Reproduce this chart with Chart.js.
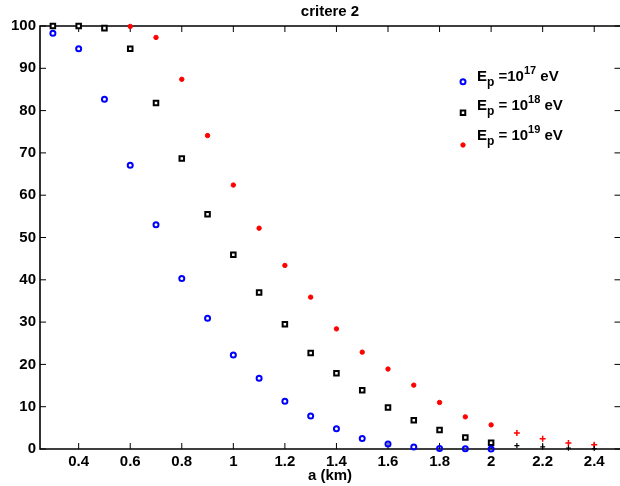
<!DOCTYPE html>
<html>
<head>
<meta charset="utf-8">
<title>critere 2</title>
<script src="https://cdn.jsdelivr.net/npm/chart.js@4.4.0/dist/chart.umd.min.js"></script>
<style>
    html, body { margin: 0; padding: 0; background: #fff; }
    #wrap { width: 620px; height: 486px; overflow: hidden; }
</style>
</head>
<body>
<div id="wrap"><canvas id="chartCritere" width="626" height="486"></canvas></div>
<script>
'use strict'

// a (km) and percentage for each proton energy
var aE17 = [0.3, 0.4, 0.5, 0.6, 0.7, 0.8, 0.9, 1.0, 1.1, 1.2, 1.3, 1.4, 1.5, 1.6, 1.7, 1.8, 1.9, 2.0];
var valE17 = [98.3, 94.6, 82.7, 67.1, 53.0, 40.3, 30.9, 22.2, 16.7, 11.3, 7.8, 4.8, 2.5, 1.2, 0.5, 0.1, 0.05, 0];

var aE18 = [0.3, 0.4, 0.5, 0.6, 0.7, 0.8, 0.9, 1.0, 1.1, 1.2, 1.3, 1.4, 1.5, 1.6, 1.7, 1.8, 1.9, 2.0, 2.1, 2.2, 2.3, 2.4];
var valE18 = [100, 100, 99.5, 94.6, 81.8, 68.7, 55.5, 45.9, 37.0, 29.5, 22.7, 17.9, 13.9, 9.8, 6.8, 4.5, 2.7, 1.5, 0.8, 0.5, 0.2, 0.1];

var aE19 = [0.6, 0.7, 0.8, 0.9, 1.0, 1.1, 1.2, 1.3, 1.4, 1.5, 1.6, 1.7, 1.8, 1.9, 2.0, 2.1, 2.2, 2.3, 2.4];
var valE19 = [99.9, 97.3, 87.4, 74.1, 62.4, 52.2, 43.4, 35.9, 28.4, 22.9, 18.9, 15.1, 11.0, 7.6, 5.7, 3.8, 2.4, 1.4, 1.0];

var xTicks = [0.4, 0.6, 0.8, 1.0, 1.2, 1.4, 1.6, 1.8, 2.0, 2.2, 2.4];
var yTicks = [0, 10, 20, 30, 40, 50, 60, 70, 80, 90, 100];
var energyExp = ['17', '18', '19'];
var energyEq = [' =10', ' = 10', ' = 10'];

var FONT = '"Liberation Sans", Arial, Helvetica, sans-serif';

function toPoints(xs, ys) {
    return xs.map(function(x, i) { return { x: x, y: ys[i] }; });
}

// past 2.0 km the runs are drawn with '+'
function isTail(ctx) {
    return ctx.raw && ctx.raw.x > 2.05;
}

// box with inward ticks on all four sides
var axesFrame = {
    id: 'axesFrame',
    beforeDatasetsDraw: function(chart) {
        var ctx = chart.ctx, area = chart.chartArea;
        var xs = chart.scales.x, ys = chart.scales.y;
        ctx.save();
        ctx.strokeStyle = '#000';
        ctx.lineWidth = 1;
        ctx.beginPath();
        xTicks.forEach(function(v) {
            var px = xs.getPixelForValue(v);
            ctx.moveTo(px, area.bottom); ctx.lineTo(px, area.bottom - 6);
            ctx.moveTo(px, area.top); ctx.lineTo(px, area.top + 6);
        });
        yTicks.forEach(function(v) {
            var py = ys.getPixelForValue(v);
            ctx.moveTo(area.left, py); ctx.lineTo(area.left + 6, py);
            ctx.moveTo(area.right, py); ctx.lineTo(area.right - 5.5, py);
        });
        ctx.stroke();
        ctx.lineWidth = 1.6;
        ctx.beginPath();
        ctx.moveTo(area.right, area.top);
        ctx.lineTo(area.left, area.top);
        ctx.lineTo(area.left, area.bottom);
        ctx.lineTo(area.right, area.bottom);
        ctx.stroke();
        ctx.restore();
    }
};

// legend with subscript p and exponent
var energyLegend = {
    id: 'energyLegend',
    afterDraw: function(chart) {
        var ctx = chart.ctx;
        var markerY = [81.7, 112.7, 145];
        var baseY = [81, 110, 140];
        ctx.save();
        chart.data.datasets.forEach(function(ds, i) {
            var mk = ds.legendMarker;
            ctx.fillStyle = ds.backgroundColor;
            ctx.strokeStyle = ds.borderColor;
            ctx.lineWidth = mk.borderWidth;
            Chart.helpers.drawPoint(ctx, {
                pointStyle: mk.style,
                radius: mk.radius,
                borderWidth: mk.borderWidth,
                rotation: 0
            }, 463, markerY[i]);

            var x = 477, y = baseY[i];
            ctx.fillStyle = '#000';
            ctx.textBaseline = 'alphabetic';
            ctx.textAlign = 'left';
            [['E', 15, 0], ['p', 12, 5], [energyEq[i], 15, 0], [energyExp[i], 11, -7], [' eV', 15, 0]]
                .forEach(function(part) {
                    ctx.font = 'bold ' + part[1] + 'px ' + FONT;
                    ctx.fillText(part[0], x, y + part[2]);
                    x += ctx.measureText(part[0]).width;
                });
        });
        ctx.restore();
    }
};

var ctxCritere = document.getElementById('chartCritere');
var critereChart = new Chart(ctxCritere, {
    type: 'scatter',
    data: {
        datasets: [{
            label: 'E17',
            data: toPoints(aE17, valE17),
            pointStyle: 'circle',
            pointRadius: 2.5,
            borderWidth: 2,
            borderColor: '#0000ff',
            backgroundColor: 'rgba(255,255,255,0)',
            legendMarker: { style: 'circle', radius: 2.5, borderWidth: 2 },
            clip: false
        }, {
            label: 'E18',
            data: toPoints(aE18, valE18),
            pointStyle: function(c) { return isTail(c) ? 'cross' : 'rect'; },
            pointRadius: function(c) { return isTail(c) ? 2.5 : 3.2; },
            borderWidth: function(c) { return isTail(c) ? 1.2 : 2; },
            borderColor: '#000000',
            backgroundColor: '#ffffff',
            legendMarker: { style: 'rect', radius: 3.2, borderWidth: 2 },
            clip: false
        }, {
            label: 'E19',
            data: toPoints(aE19, valE19),
            pointStyle: function(c) { return isTail(c) ? 'cross' : 'circle'; },
            pointRadius: function(c) { return isTail(c) ? 3 : 2.2; },
            borderWidth: function(c) { return isTail(c) ? 1.5 : 1; },
            borderColor: '#ff0000',
            backgroundColor: '#ff0000',
            legendMarker: { style: 'circle', radius: 2.2, borderWidth: 1 },
            clip: false
        }]
    },
    options: {
        responsive: false,
        animation: false,
        layout: { padding: { left: 0, right: 1, top: 0, bottom: 0 } },
        plugins: {
            legend: { display: false },
            tooltip: { enabled: false },
            title: {
                display: true,
                text: 'critere 2',
                fullSize: false,
                color: '#000',
                font: { family: FONT, size: 15, weight: 'bold' },
                padding: { top: 3, bottom: 5 }
            }
        },
        scales: {
            x: {
                type: 'linear',
                min: 0.25,
                max: 2.5,
                grid: { display: false, drawTicks: false },
                border: { display: false },
                afterBuildTicks: function(scale) {
                    scale.ticks = xTicks.map(function(v) { return { value: v }; });
                },
                afterFit: function(scale) { scale.height = 37; },
                ticks: {
                    padding: 4,
                    color: '#000',
                    font: { family: FONT, size: 15, weight: 'bold' },
                    maxRotation: 0,
                    callback: function(v) { return String(+v.toFixed(1)); }
                },
                title: {
                    display: true,
                    text: 'a (km)',
                    color: '#000',
                    font: { family: FONT, size: 15, weight: 'bold' },
                    padding: { top: 0, bottom: 1 }
                }
            },
            y: {
                type: 'linear',
                min: 0,
                max: 100,
                grid: { display: false, drawTicks: false },
                border: { display: false },
                afterBuildTicks: function(scale) {
                    scale.ticks = yTicks.map(function(v) { return { value: v }; });
                },
                afterFit: function(scale) { scale.width = 40; },
                ticks: {
                    padding: 4,
                    color: '#000',
                    font: { family: FONT, size: 15, weight: 'bold' }
                }
            }
        }
    },
    plugins: [axesFrame, energyLegend]
});
</script>
</body>
</html>
